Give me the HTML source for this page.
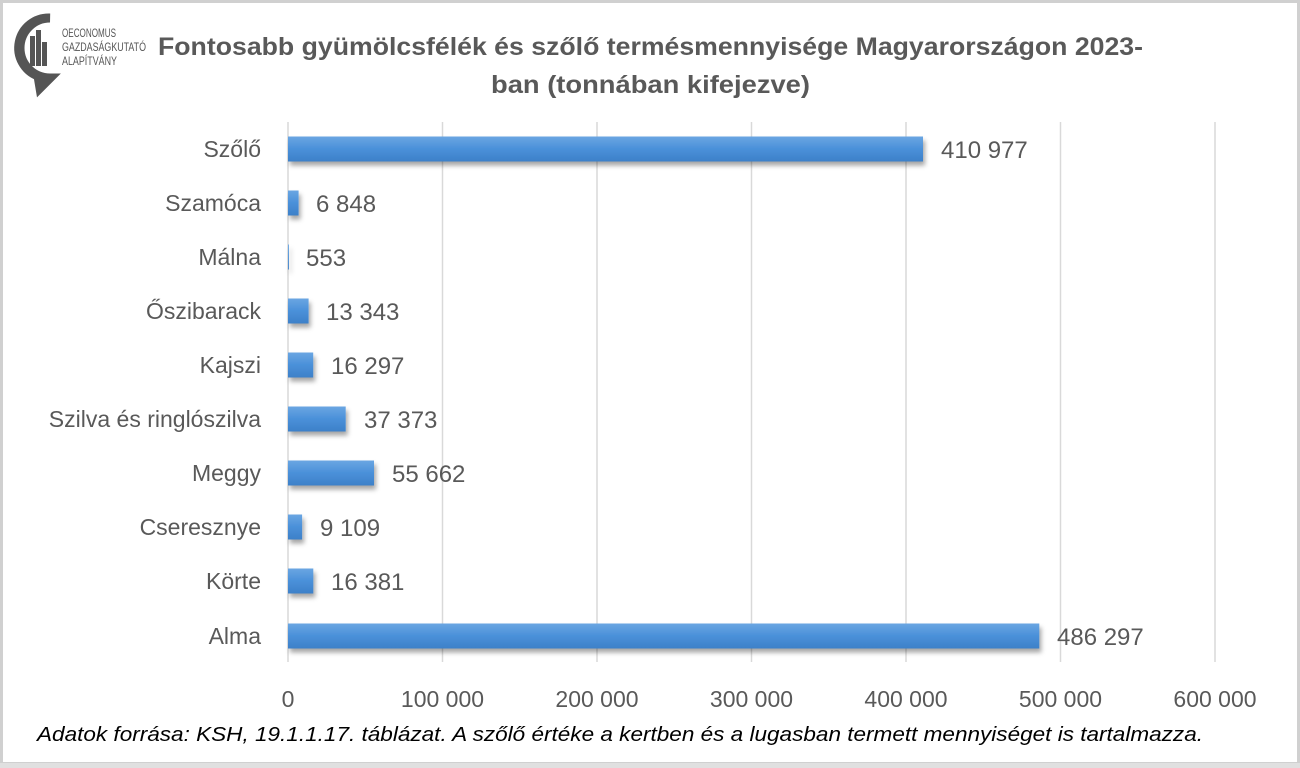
<!DOCTYPE html>
<html><head><meta charset="utf-8"><style>
html,body{margin:0;padding:0;background:#fff;}
svg{display:block;}
text{font-family:"Liberation Sans",sans-serif;fill:#595959;}
</style></head><body>
<svg width="1300" height="768" viewBox="0 0 1300 768" xmlns="http://www.w3.org/2000/svg">
<defs>
<linearGradient id="bg" x1="0" y1="0" x2="0" y2="1">
<stop offset="0" stop-color="#6aa6e2"/><stop offset="0.5" stop-color="#4a90d9"/><stop offset="1" stop-color="#3d80c8"/>
</linearGradient>
<filter id="sh" x="-5%" y="-30%" width="110%" height="180%"><feDropShadow dx="2" dy="4" stdDeviation="2.5" flood-color="#000" flood-opacity="0.35"/></filter>
</defs>
<rect x="1.5" y="1.5" width="1297" height="762" fill="#fff" stroke="#d0d0d0" stroke-width="3"/>
<rect x="0" y="763" width="1300" height="5" fill="#e0e0e0"/>
<g fill="#555">
<path d="M50 18 A30 30 0 1 0 50 78 L40 88 L38 76 A30 30 0 0 1 50 18 Z" fill="none" stroke="#555" stroke-width="9"/>
<rect x="30" y="36" width="5" height="30"/><rect x="36" y="30" width="5" height="36"/><rect x="42" y="42" width="5" height="24"/>
</g>
<text x="62" y="37" font-size="12" textLength="54" lengthAdjust="spacingAndGlyphs" style="fill:#555">OECONOMUS</text>
<text x="62" y="51" font-size="12" textLength="84" lengthAdjust="spacingAndGlyphs" style="fill:#555">GAZDASÁGKUTATÓ</text>
<text x="62" y="65" font-size="12" textLength="55" lengthAdjust="spacingAndGlyphs" style="fill:#555">ALAPÍTVÁNY</text>
<text x="158" y="55" font-size="25" font-weight="bold" textLength="985" lengthAdjust="spacingAndGlyphs">Fontosabb gyümölcsfélék és szőlő termésmennyisége Magyarországon 2023-</text>
<text x="491" y="93" font-size="25" font-weight="bold" textLength="319" lengthAdjust="spacingAndGlyphs">ban (tonnában kifejezve)</text>
<g stroke="#d9d9d9" stroke-width="1.5">
<line x1="288" y1="122" x2="288" y2="662"/><line x1="442.5" y1="122" x2="442.5" y2="662"/><line x1="597" y1="122" x2="597" y2="662"/><line x1="751.5" y1="122" x2="751.5" y2="662"/><line x1="906" y1="122" x2="906" y2="662"/><line x1="1060.5" y1="122" x2="1060.5" y2="662"/><line x1="1215" y1="122" x2="1215" y2="662"/>
</g>
<g font-size="23" text-anchor="middle">
<text x="288" y="707">0</text><text x="442.5" y="707">100 000</text><text x="597" y="707">200 000</text><text x="751.5" y="707">300 000</text><text x="906" y="707">400 000</text><text x="1060.5" y="707">500 000</text><text x="1215" y="707">600 000</text>
</g>
<g fill="url(#bg)" filter="url(#sh)">
<rect x="288" y="136.5" width="635" height="25"/>
<rect x="288" y="190.5" width="10.6" height="25"/>
<rect x="288" y="244.5" width="0.9" height="25"/>
<rect x="288" y="298.5" width="20.6" height="25"/>
<rect x="288" y="352.5" width="25.2" height="25"/>
<rect x="288" y="406.5" width="57.7" height="25"/>
<rect x="288" y="460.5" width="86" height="25"/>
<rect x="288" y="514.5" width="14.1" height="25"/>
<rect x="288" y="568.5" width="25.3" height="25"/>
<rect x="288" y="623.5" width="751.3" height="25"/>
</g>
<g font-size="23" text-anchor="end">
<text x="261" y="157">Szőlő</text><text x="261" y="211">Szamóca</text><text x="261" y="265">Málna</text><text x="261" y="319">Őszibarack</text><text x="261" y="373">Kajszi</text><text x="261" y="427">Szilva és ringlószilva</text><text x="261" y="481">Meggy</text><text x="261" y="535">Cseresznye</text><text x="261" y="589">Körte</text><text x="261" y="644">Alma</text>
</g>
<g font-size="24">
<text x="941" y="158">410 977</text><text x="316" y="212">6 848</text><text x="306" y="266">553</text><text x="326" y="320">13 343</text><text x="331" y="374">16 297</text><text x="364" y="428">37 373</text><text x="392" y="482">55 662</text><text x="320" y="536">9 109</text><text x="331" y="590">16 381</text><text x="1057" y="645">486 297</text>
</g>
<text x="37" y="741" font-size="20" font-style="italic" textLength="1166" lengthAdjust="spacingAndGlyphs" style="fill:#000">Adatok forrása: KSH, 19.1.1.17. táblázat. A szőlő értéke a kertben és a lugasban termett mennyiséget is tartalmazza.</text>
</svg>
</body></html>
